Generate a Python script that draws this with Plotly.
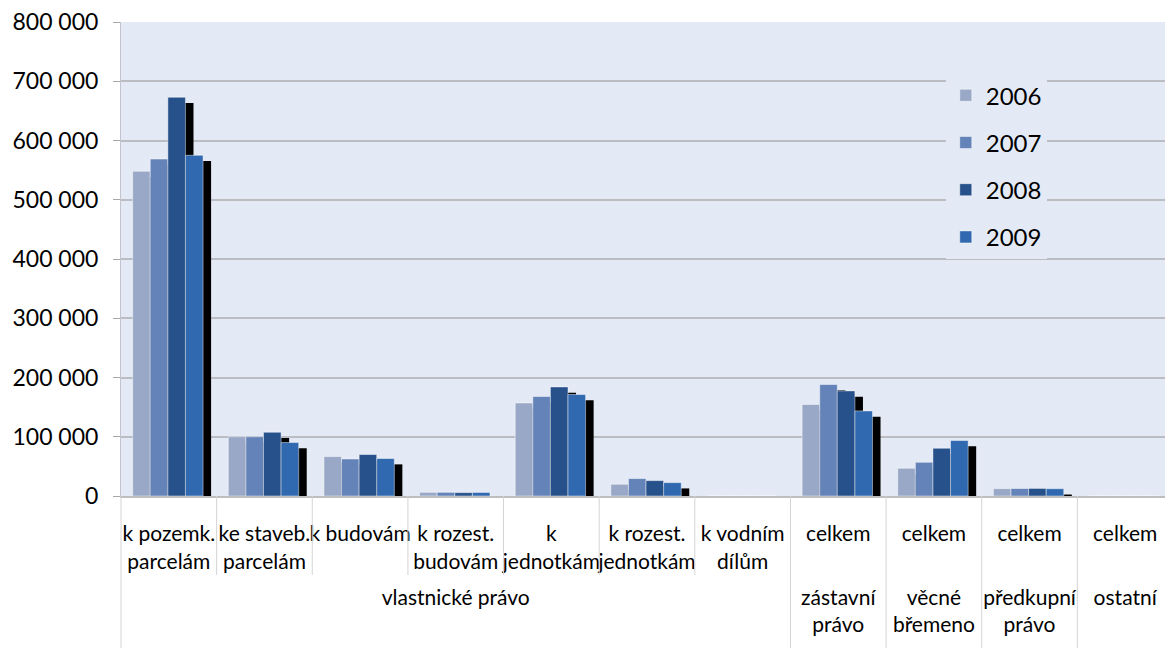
import plotly.graph_objects as go

# ---- data ----
groups = ["vlastnické právo"] * 7 + ["zástavní<br>právo", "věcné<br>břemeno", "předkupní<br>právo", "ostatní"]
subcats = ["k pozemk.<br>parcelám", "ke staveb.<br>parcelám", "k budovám", "k rozest.<br>budovám",
           "k<br>jednotkám", "k rozest.<br>jednotkám", "k vodním<br>dílům",
           "celkem", "celkem", "celkem", "celkem"]
years = ["2006", "2007", "2008", "2009"]
v2006 = [548000, 100000, 66500, 6200, 157000, 19800, 0, 154400, 46800, 12400, 0]
v2007 = [568700, 100000, 62500, 6200, 167900, 29400, 0, 188200, 56900, 12600, 0]
v2008 = [673000, 107600, 70000, 5700, 184100, 26000, 0, 177400, 80600, 12800, 0]
v2009 = [575000, 90200, 63200, 6000, 171300, 22600, 0, 143600, 93600, 12300, 0]
y_ticks = [0, 100000, 200000, 300000, 400000, 500000, 600000, 700000, 800000]

series = [v2006, v2007, v2008, v2009]
colors = ["#98A8C6", "#6383B9", "#27518B", "#3069AF"]

# ---- style ----
FONT = "Lato, 'Open Sans', sans-serif"
PLOT_BG = "#E4EAF5"
bar_w = 0.184
first_off = -0.378
shadow_dx = 0.084
shadow_dy = 9800

# outer level labels start one blank line lower (as in the reference)
outer = ["<br>" + g for g in groups]
x = [outer, subcats]
fig = go.Figure()

# shadows (behind all bars)
for i, vals in enumerate(series):
    fig.add_trace(go.Bar(
        x=x, y=vals, base=-shadow_dy, width=bar_w,
        offset=first_off + i * bar_w + shadow_dx,
        marker=dict(color="black", line=dict(width=0)),
        showlegend=False, hoverinfo="skip",
    ))

# bars
for i, (yr, vals) in enumerate(zip(years, series)):
    fig.add_trace(go.Bar(
        x=x, y=vals, name=yr, width=bar_w,
        offset=first_off + i * bar_w,
        marker=dict(color=colors[i], line=dict(color="rgba(255,255,255,0.45)", width=1)),
        legendgroup=yr,
    ))

n = len(subcats)
PLOT_H = 474
shapes = []
short_y = -(575 - 496) / PLOT_H
long_y = -(660 - 496) / PLOT_H
for k in range(0, n):
    y1 = short_y if 1 <= k <= 6 else long_y
    shapes.append(dict(type="line", xref="paper", yref="paper",
                       x0=k / n, x1=k / n, y0=0, y1=y1,
                       line=dict(color="#D4D4D4", width=1)))

fig.update_layout(
    width=1173, height=648,
    margin=dict(l=113, r=8, t=14, b=160),
    paper_bgcolor="white", plot_bgcolor=PLOT_BG,
    barmode="overlay",
    separators=", ",
    font=dict(family=FONT, size=21, color="black"),
    shapes=shapes,
    legend=dict(
        x=0.784, y=0.892, xanchor="left", yanchor="top",
        bgcolor=PLOT_BG, font=dict(size=24, family=FONT),
        traceorder="grouped", tracegroupgap=13,
    ),
    xaxis=dict(
        type="multicategory", automargin=False,
        showgrid=False, showline=True, linecolor="#BEBEBE", linewidth=2,
        ticks="outside", ticklen=26, tickcolor="rgba(0,0,0,0)",
        ticklabelstandoff=18,
        showdividers=False, tickangle=0,
        tickfont=dict(size=21, family=FONT),
        range=[-0.5, n - 0.5],
    ),
    yaxis=dict(
        automargin=False,
        range=[0, 800000], tickvals=y_ticks, tickformat=",.0f",
        showgrid=True, gridcolor="#BCBCC3", gridwidth=1.5,
        zeroline=False,
        showline=True, linecolor="#C4C4CC", linewidth=1,
        ticks="outside", ticklen=7, tickcolor="#A8A8A8",
        ticklabelstandoff=10, ticklabeloverflow="allow",
        tickfont=dict(size=23, family=FONT),
    ),
)

fig.write_html("out.html")
